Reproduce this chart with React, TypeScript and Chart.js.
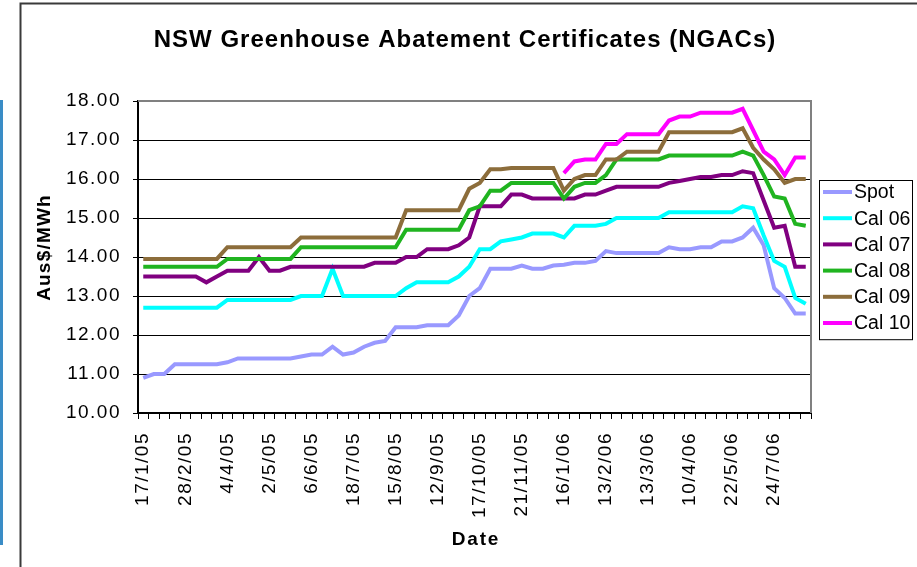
import React, { useEffect, useRef } from "react";
import { Chart, registerables } from "chart.js";

Chart.register(...registerables);

// ---- data ----
const dateLabels = [
  "17/1/05", "28/2/05", "4/4/05", "2/5/05", "6/6/05", "18/7/05", "15/8/05", "12/9/05",
  "17/10/05", "21/11/05", "16/1/06", "13/2/06", "13/3/06", "10/4/06", "22/5/06", "24/7/06",
];
const LABEL_EVERY = 4;
const CATEGORY_COUNT = 64;

const seriesNames = ["Spot", "Cal 06", "Cal 07", "Cal 08", "Cal 09", "Cal 10"];
const seriesColors = ["#9999FF", "#00FFFF", "#800080", "#20B420", "#8C6D3B", "#FF00FF"];

const spot = [
  10.90, 11.00, 11.00, 11.25, 11.25, 11.25, 11.25, 11.25, 11.30, 11.40, 11.40, 11.40, 11.40, 11.40, 11.40, 11.45,
  11.50, 11.50, 11.70, 11.50, 11.55, 11.70, 11.80, 11.85, 12.20, 12.20, 12.20, 12.25, 12.25, 12.25, 12.50, 13.00,
  13.20, 13.70, 13.70, 13.70, 13.78, 13.70, 13.70, 13.78, 13.80, 13.85, 13.85, 13.90, 14.15, 14.10, 14.10, 14.10,
  14.10, 14.10, 14.25, 14.20, 14.20, 14.25, 14.25, 14.40, 14.40, 14.50, 14.75, 14.30, 13.20, 12.95, 12.55, 12.55,
];
const cal06 = [
  12.70, 12.70, 12.70, 12.70, 12.70, 12.70, 12.70, 12.70, 12.90, 12.90, 12.90, 12.90, 12.90, 12.90, 12.90, 13.00,
  13.00, 13.00, 13.70, 13.00, 13.00, 13.00, 13.00, 13.00, 13.00, 13.20, 13.35, 13.35, 13.35, 13.35, 13.50, 13.75,
  14.20, 14.20, 14.40, 14.45, 14.50, 14.60, 14.60, 14.60, 14.50, 14.80, 14.80, 14.80, 14.85, 15.00, 15.00, 15.00,
  15.00, 15.00, 15.15, 15.15, 15.15, 15.15, 15.15, 15.15, 15.15, 15.30, 15.25, 14.55, 13.90, 13.75, 12.95, 12.80,
];
const cal07 = [
  13.50, 13.50, 13.50, 13.50, 13.50, 13.50, 13.35, 13.50, 13.65, 13.65, 13.65, 14.00, 13.65, 13.65, 13.75, 13.75,
  13.75, 13.75, 13.75, 13.75, 13.75, 13.75, 13.85, 13.85, 13.85, 14.00, 14.00, 14.20, 14.20, 14.20, 14.30, 14.50,
  15.30, 15.30, 15.30, 15.60, 15.60, 15.50, 15.50, 15.50, 15.50, 15.50, 15.60, 15.60, 15.70, 15.80, 15.80, 15.80,
  15.80, 15.80, 15.90, 15.95, 16.00, 16.05, 16.05, 16.10, 16.10, 16.20, 16.15, 15.45, 14.75, 14.80, 13.75, 13.75,
];
const cal08 = [
  13.75, 13.75, 13.75, 13.75, 13.75, 13.75, 13.75, 13.75, 13.95, 13.95, 13.95, 13.95, 13.95, 13.95, 13.95, 14.25,
  14.25, 14.25, 14.25, 14.25, 14.25, 14.25, 14.25, 14.25, 14.25, 14.70, 14.70, 14.70, 14.70, 14.70, 14.70, 15.20,
  15.30, 15.70, 15.70, 15.90, 15.90, 15.90, 15.90, 15.90, 15.50, 15.80, 15.90, 15.90, 16.10, 16.50, 16.50, 16.50,
  16.50, 16.50, 16.60, 16.60, 16.60, 16.60, 16.60, 16.60, 16.60, 16.70, 16.60, 16.10, 15.55, 15.50, 14.85, 14.80,
];
const cal09 = [
  13.95, 13.95, 13.95, 13.95, 13.95, 13.95, 13.95, 13.95, 14.25, 14.25, 14.25, 14.25, 14.25, 14.25, 14.25, 14.50,
  14.50, 14.50, 14.50, 14.50, 14.50, 14.50, 14.50, 14.50, 14.50, 15.20, 15.20, 15.20, 15.20, 15.20, 15.20, 15.75,
  15.90, 16.25, 16.25, 16.28, 16.28, 16.28, 16.28, 16.28, 15.70, 16.00, 16.10, 16.10, 16.50, 16.50, 16.70, 16.70,
  16.70, 16.70, 17.20, 17.20, 17.20, 17.20, 17.20, 17.20, 17.20, 17.30, 16.80, 16.50, 16.25, 15.90, 16.00, 16.00,
];
const cal10 = [
  null, null, null, null, null, null, null, null, null, null, null, null, null, null, null, null,
  null, null, null, null, null, null, null, null, null, null, null, null, null, null, null, null,
  null, null, null, null, null, null, null, null, 16.15, 16.45, 16.50, 16.50, 16.90, 16.90, 17.15, 17.15,
  17.15, 17.15, 17.50, 17.60, 17.60, 17.70, 17.70, 17.70, 17.70, 17.80, 17.25, 16.70, 16.50, 16.10, 16.55, 16.55,
];

const yMin = 10;
const yMax = 18;
const yStep = 1;

const chartTitle = "NSW Greenhouse Abatement Certificates (NGACs)";
const yAxisTitle = "Aus$/MWh";
const xAxisTitle = "Date";

const seriesValues = [spot, cal06, cal07, cal08, cal09, cal10];
const categories = Array.from({ length: CATEGORY_COUNT }, (_, i) =>
  i % LABEL_EVERY === 0 ? dateLabels[i / LABEL_EVERY] : ""
);

// ---- styling ----
const FONT = '"Liberation Sans", Arial, sans-serif';
const TICK_SPACING = "1.5px";

const decorPlugin = {
  id: "decor",
  beforeUpdate(chart: any) {
    chart.ctx.letterSpacing = TICK_SPACING;
  },
  beforeDraw(chart: any) {
    const ctx = chart.ctx as CanvasRenderingContext2D;
    ctx.save();
    ctx.fillStyle = "#ffffff";
    ctx.fillRect(0, 0, chart.width, chart.height);
    // outer chart border (top + left)
    ctx.strokeStyle = "#3a3a3a";
    ctx.lineWidth = 2;
    ctx.beginPath();
    ctx.moveTo(20.5, chart.height);
    ctx.lineTo(20.5, 3.5);
    ctx.lineTo(chart.width, 3.5);
    ctx.stroke();
    // blue margin bar on far left
    ctx.fillStyle = "#3a8cc6";
    ctx.fillRect(0, 100, 3, 445);
    ctx.restore();
    ctx.letterSpacing = TICK_SPACING;
  },
  afterDraw(chart: any) {
    const ctx = chart.ctx as CanvasRenderingContext2D;
    const a = chart.chartArea;
    ctx.save();
    // plot area border (top + right, grey)
    ctx.strokeStyle = "#808080";
    ctx.lineWidth = 2;
    ctx.beginPath();
    ctx.moveTo(a.left, a.top);
    ctx.lineTo(a.right, a.top);
    ctx.lineTo(a.right, a.bottom);
    ctx.stroke();

    ctx.fillStyle = "#000";
    // title
    ctx.font = `bold 24px ${FONT}`;
    (ctx as any).letterSpacing = "1px";
    ctx.textAlign = "center";
    ctx.textBaseline = "middle";
    ctx.fillText(chartTitle, 465, 40);

    // y axis title
    ctx.save();
    ctx.translate(45, 247.5);
    ctx.rotate(-Math.PI / 2);
    ctx.font = `bold 19px ${FONT}`;
    (ctx as any).letterSpacing = "1.2px";
    ctx.fillText(yAxisTitle, 0, 0);
    ctx.restore();

    // x axis title
    ctx.font = `bold 19px ${FONT}`;
    (ctx as any).letterSpacing = "1.8px";
    ctx.fillText(xAxisTitle, 476, 540);

    // legend
    const lx = 819.5;
    const ly = 180.5;
    const rowH = 26.2;
    const n = chart.data.datasets.length;
    ctx.strokeStyle = "#000";
    ctx.lineWidth = 1;
    ctx.fillStyle = "#fff";
    ctx.fillRect(lx, ly, 93, rowH * n + 2);
    ctx.strokeRect(lx, ly, 93, rowH * n + 2);
    ctx.font = `19.5px ${FONT}`;
    (ctx as any).letterSpacing = "0px";
    ctx.textAlign = "left";
    ctx.textBaseline = "middle";
    chart.data.datasets.forEach((ds: any, i: number) => {
      const cy = ly + 11.5 + i * rowH;
      ctx.strokeStyle = ds.borderColor;
      ctx.lineWidth = 4;
      ctx.beginPath();
      ctx.moveTo(823, cy);
      ctx.lineTo(852, cy);
      ctx.stroke();
      ctx.fillStyle = "#000";
      ctx.fillText(ds.label, 854, cy + 1);
    });
    ctx.restore();
    ctx.letterSpacing = TICK_SPACING;
  },
};

export default function App() {
  const ref = useRef<HTMLCanvasElement>(null);

  useEffect(() => {
    if (!ref.current) return;
    const datasets = seriesNames.map((name, i) => ({
      label: name,
      data: seriesValues[i],
      borderColor: seriesColors[i],
      backgroundColor: seriesColors[i],
      borderWidth: 4,
      pointRadius: 0,
      pointHoverRadius: 0,
      tension: 0,
      fill: false,
      spanGaps: false,
      order: seriesNames.length - i,
    }));

    const chart = new Chart(ref.current, {
      type: "line",
      data: { labels: categories, datasets },
      options: {
        responsive: false,
        maintainAspectRatio: false,
        animation: false,
        devicePixelRatio: 1,
        layout: { padding: { left: 0, top: 101, right: 106, bottom: 0 } },
        plugins: {
          legend: { display: false },
          title: { display: false },
          tooltip: { enabled: false },
        },
        elements: {
          line: { borderCapStyle: "butt", borderJoinStyle: "miter" },
        },
        scales: {
          x: {
            type: "category",
            offset: true,
            grid: {
              offset: true,
              drawOnChartArea: false,
              drawTicks: true,
              tickLength: 6,
              color: "#000",
              lineWidth: 1,
            },
            border: { display: true, color: "#000", width: 2 },
            ticks: {
              autoSkip: false,
              minRotation: 90,
              maxRotation: 90,
              padding: 13,
              color: "#000",
              font: { family: FONT, size: 19 },
            },
            afterFit: (s: any) => {
              s.height = 154;
              s.paddingLeft = 0;
              s.paddingRight = 0;
              s.paddingTop = 0;
              s.paddingBottom = 0;
            },
          },
          y: {
            min: yMin,
            max: yMax,
            grid: { color: "#000", lineWidth: 1, tickLength: 5, drawTicks: true },
            border: { display: true, color: "#000", width: 2 },
            ticks: {
              stepSize: yStep,
              padding: 12,
              color: "#000",
              font: { family: FONT, size: 19 },
              callback: (v: any) => Number(v).toFixed(2),
            },
            afterFit: (s: any) => {
              s.width = 138;
              s.paddingLeft = 0;
              s.paddingRight = 0;
              s.paddingTop = 0;
              s.paddingBottom = 0;
            },
          },
        },
      },
      plugins: [decorPlugin],
    } as any);

    return () => chart.destroy();
  }, []);

  return (
    <div style={{ position: "absolute", left: 0, top: 0, width: 917, height: 567, background: "#fff" }}>
      <canvas ref={ref} width={917} height={567} style={{ display: "block", width: 917, height: 567 }} />
    </div>
  );
}
